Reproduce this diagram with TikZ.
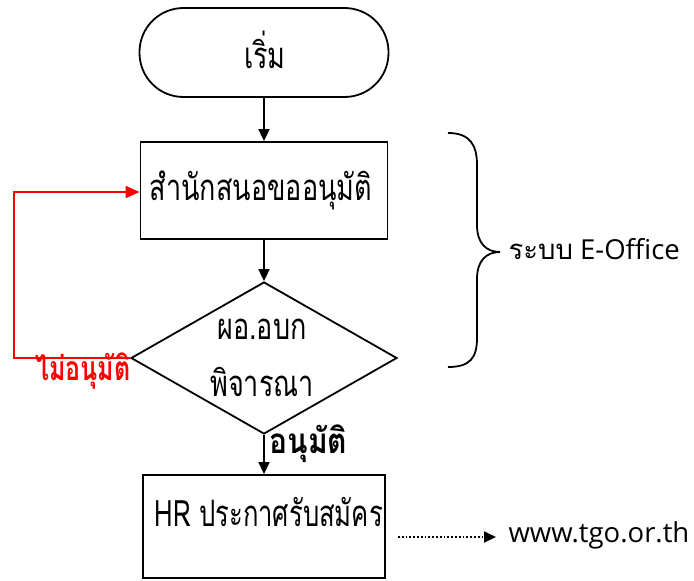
\documentclass[tikz,border=0pt]{standalone}
\usepackage{fontspec}
\usepackage{graphicx}
\setmainfont{Open Sans}
\newfontfamily\thai[Script=Thai]{Loma}
\newcommand{\tallt}[1]{\scalebox{1}[1.35]{#1}}
\usetikzlibrary{arrows.meta,shapes.geometric}
\tikzset{
  x=1pt,y=-1pt,
  conn/.style={line width=1.8pt,-{Triangle[length=12pt,width=11pt]}},
  boxst/.style={draw,line width=1.8pt,minimum width=247pt,inner sep=0pt},
  thaitext/.style={font=\thai\fontsize{27}{40}\selectfont},
  thaibold/.style={font=\thai\bfseries\fontsize{25}{30}\selectfont},
  sidetext/.style={anchor=west,font=\fontsize{27.5}{32}\selectfont},
}
\begin{document}
\begin{tikzpicture}
\useasboundingbox (0,0) rectangle (694,581);
% nodes
\node[draw,line width=1.8pt,rounded corners=44pt,minimum width=249pt,minimum height=89pt,inner sep=0pt] (start) at (264,52.5) {};
\node[thaitext] (startt) at (265,50) {\tallt{เริ่ม}};
\node[boxst,minimum height=97pt] (b1) at (264,190.5) {};
\node[thaitext] (b1t) at (261,190) {\tallt{สำนักสนอขออนุมัติ}};
\node[draw,diamond,line width=1.8pt,minimum width=266pt,minimum height=152pt,inner sep=0pt,aspect=1.75] (d) at (264,358) {};
\node[thaitext] (dt1) at (262,329) {\tallt{ผอ.อบก}};
\node[thaitext] (dt2) at (262,382) {\tallt{พิจารณา}};
\node[boxst,minimum width=242pt,minimum height=103pt] (b2) at (264,526.5) {};
\node[thaitext,anchor=west] (b2t) at (151,512) {\scalebox{0.95}[1.35]{HR ประกาศรับสมัคร}};
% connectors
\draw[conn] (start.south) -- (b1.north);
\draw[conn] (b1.south) -- (d.north);
\draw[conn] (d.south) -- (b2.north);
\node[thaibold,anchor=west] (yes) at (266,444) {\scalebox{1.2}[1.4]{อนุมัติ}};
\coordinate (c1) at (14,358);
\coordinate (c2) at (14,192);
\draw[red,line width=1.8pt,-{Triangle[length=14pt,width=12pt]}] (d.west) -- (c1) -- (c2) -- (b1.west |- c2);
\node[red,thaibold] (no) at (83,371) {\tallt{ไม่อนุมัติ}};
% brace
\coordinate (bt) at (448,133);
\coordinate (bm) at (500,252);
\coordinate (bb) at (448,367);
\draw[line width=1.8pt] (bt) .. controls (470,133) and (477,145) .. (477,165) -- (477,225)
  .. controls (477,243) and (486,252) .. (bm)
  .. controls (486,252) and (477,261) .. (477,279) -- (477,338)
  .. controls (477,358) and (470,367) .. (bb);
\node[sidetext] (sys) at (505,249) {{\thai ระบบ} E-Office};
% web
\node[sidetext] (web) at (505,535) {www.tgo.or.th};
\coordinate (w0) at (398,537);
\draw[line width=1.8pt,dotted,-{Triangle[length=12pt,width=11pt]}] (w0) -- (496,537);
\end{tikzpicture}
\end{document}
